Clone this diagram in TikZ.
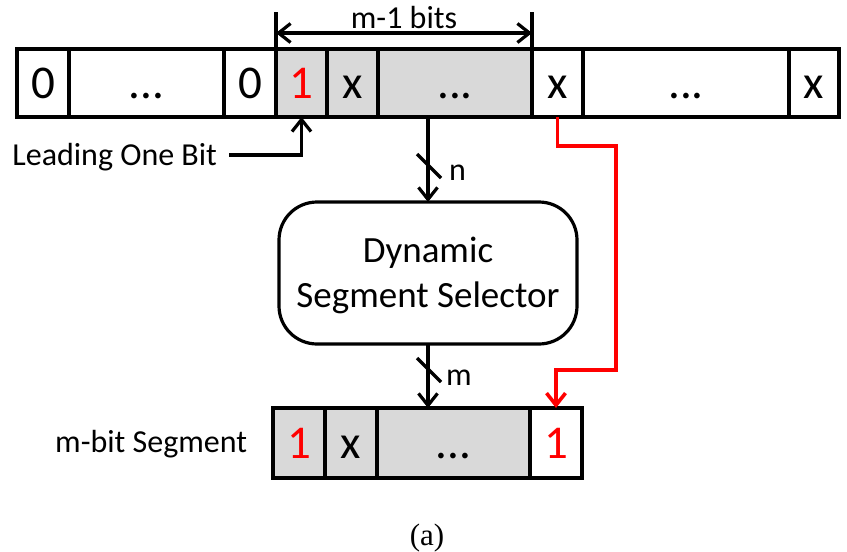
\documentclass[tikz,border=0pt]{standalone}
\usepackage{fontspec}
\setmainfont{Carlito}
\newfontfamily\capfont{Liberation Serif}
\usetikzlibrary{arrows.meta,calc}
\definecolor{cellgray}{HTML}{D9D9D9}
\definecolor{sigred}{HTML}{FF0000}
\begin{document}
\begin{tikzpicture}[x=1pt,y=-1pt,
  cell/.style={draw, line width=3.2pt, inner sep=0pt, outer sep=0pt,
    minimum height=68pt, text height=30pt, text depth=0pt,
    font=\fontsize{47}{52}\selectfont},
  shaded/.style={fill=cellgray},
  redtxt/.style={text=sigred},
  tip/.style={-{Straight Barb[length=12pt,width=19pt]}},
  arr/.style={line width=3.2pt, tip},
  redarr/.style={line width=3.6pt, draw=sigred, -{Straight Barb[length=12pt,width=19pt]}},
  dim/.style={line width=3.2pt, {Straight Barb[length=12pt,width=19pt]}-{Straight Barb[length=12pt,width=19pt]}},
  lbl/.style={inner sep=0pt, font=\fontsize{32}{36}\selectfont},
  boxtxt/.style={inner sep=0pt, font=\fontsize{37}{44}\selectfont},
  slash/.style={line width=3.2pt}
]
\useasboundingbox (0,0) rectangle (847,552);

% top row
\node[cell, minimum width=52pt]  (c1) at (43,83)    {0};
\node[cell, minimum width=155pt] (c2) at (146.5,83) {...};
\node[cell, minimum width=52pt]  (c3) at (250,83)   {0};
\node[cell, shaded, redtxt, minimum width=51pt] (c4) at (301.5,83) {1};
\node[cell, shaded, minimum width=51pt]  (c5) at (352.5,83) {x};
\node[cell, shaded, minimum width=154pt] (c6) at (455,83)   {...};
\node[cell, minimum width=51pt]  (c7) at (557.5,83) {x};
\node[cell, minimum width=206pt] (c8) at (686,83)   {...};
\node[cell, minimum width=50pt]  (c9) at (814,83)   {x};

% dimension m-1 bits
\coordinate (dl) at ($(c4.north west)+(0,-37)$);
\coordinate (dr) at ($(c7.north west)+(0,-37)$);
\draw[slash] (c4.north west) -- (dl);
\draw[slash] (c7.north west) -- (dr);
\draw[dim] ($(c4.north west)+(0,-16)$) -- ($(c7.north west)+(0,-16)$);
\node[lbl, anchor=base] (mbits) at ($(c4.north west)!0.5!(c7.north west)+(0,-21)$) {m-1 bits};

% leading one bit
\node[lbl, anchor=east, inner xsep=0pt, outer xsep=0pt, text height=24pt, text depth=4pt] (lob) at (217,155) {Leading One Bit};
\coordinate (lobs) at ($(lob.east)+(12,0)$);
\draw[arr] (lobs) -| (c4.south);

% dynamic segment selector
\node[draw, line width=3.2pt, rounded corners=38pt, minimum width=298pt, minimum height=142pt, outer sep=0pt] (dss) at (428,273) {};
\node[boxtxt, anchor=base] (dyn) at (428,262) {Dynamic};
\node[boxtxt, anchor=base] (ssel) at (428,307) {Segment Selector};

% bottom row
\node[cell, shaded, redtxt, minimum width=52pt, minimum height=70pt] (b1) at (299,443) {1};
\node[cell, shaded, minimum width=52pt, minimum height=70pt]  (b2) at (351,443) {x};
\node[cell, shaded, minimum width=153pt, minimum height=70pt] (b3) at (453.5,443) {...};
\node[cell, redtxt, minimum width=52pt, minimum height=70pt]  (b4) at (556,443) {1};
\node[lbl, anchor=base west] (mseg) at (55,452) {m-bit Segment};

% n bus
\draw[arr] (dss.north |- c6.south) -- (dss.north);
\coordinate (ns) at ($(dss.north)+(1,-36)$);
\draw[slash] ($(ns)+(-12,-12)$) -- ($(ns)+(12,12)$);
\node[lbl, anchor=base west] (nl) at (449,180) {n};

% m bus
\draw[arr] (dss.south) -- (dss.south |- b3.north);
\coordinate (ms) at ($(dss.south)+(1,26)$);
\draw[slash] ($(ms)+(-12,-12)$) -- ($(ms)+(12,12)$);
\node[lbl, anchor=base west] (ml) at (446,385) {m};

% red path
\coordinate (r1) at (616,146);
\coordinate (r2) at (616,370);
\draw[redarr] (c7.south) |- (r1) -- (r2) -| (b4.north);

% caption
\node[inner sep=0pt, anchor=base, font=\capfont\fontsize{31}{36}\selectfont] (cap) at (427,545) {(a)};
\end{tikzpicture}
\end{document}
